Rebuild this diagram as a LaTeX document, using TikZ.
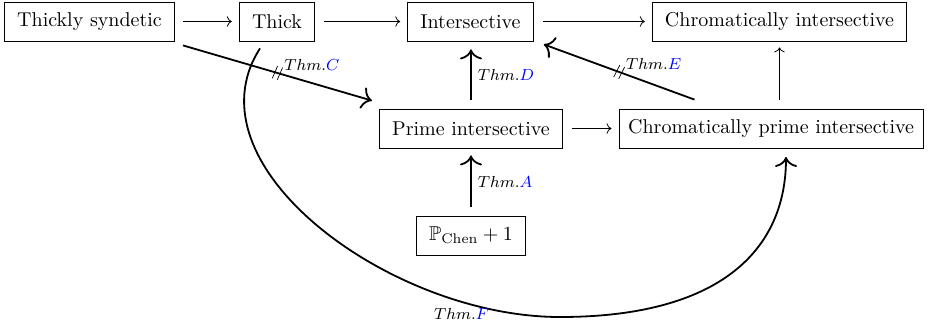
\documentclass[tikz,border=0pt]{standalone}
\usepackage{amsmath,amssymb}
\usetikzlibrary{arrows.meta,calc,decorations.markings}
\tikzset{
  box/.style={draw, line width=0.4pt, inner xsep=6.4pt, inner ysep=3pt, minimum height=19.5pt},
  thinarr/.style={line width=0.4pt, -{Computer Modern Rightarrow}},
  thickarr/.style={line width=0.9pt, -{Computer Modern Rightarrow[length=5pt,width=11pt]}},
  lab/.style={font=\footnotesize, inner sep=1pt},
  slashed/.style={postaction={decorate, decoration={markings, mark=at position 0.5 with {
     \draw[-, line width=0.35pt] (-1.7pt,-3.3pt) -- (-0.9pt,3.3pt);
     \draw[-, line width=0.35pt] (0.9pt,-3.3pt) -- (1.7pt,3.3pt);}}}}
}
\newcommand{\thm}[1]{$Thm.{\color{blue}#1}$}
\begin{document}
\begin{tikzpicture}[x=0.5pt,y=-0.5pt]
\useasboundingbox (0,0) rectangle (930,327);
\node[box] (ts) at (89.5,21.5) {Thickly syndetic};
\node[box] (th) at (277,21.5) {Thick};
\node[box] (in) at (470.5,21.5) {Intersective};
\node[box] (ci) at (779.5,21.5) {Chromatically intersective};
\node[box] (pi) at (471,128.5) {Prime intersective};
\node[box, inner xsep=4.6pt] (cp) at (771,128.5) {Chromatically prime intersective};
\node[box] (pc) at (471,235.5) {$\mathbb{P}_{\text{Chen}}+1$};

\draw[thinarr, shorten <=4pt, shorten >=3.5pt] (ts) -- (th);
\draw[thinarr, shorten <=4.5pt, shorten >=3.5pt] (th) -- (in);
\draw[thinarr, shorten <=4.5pt, shorten >=3.5pt] (in) -- (ci);
\draw[thinarr, shorten <=4.5pt, shorten >=3.5pt] (pi) -- (cp);
\draw[thinarr, shorten <=4.5pt, shorten >=3pt] (cp.north -| ci.south) -- (ci.south);

\draw[thickarr, shorten <=4.5pt, shorten >=4pt] (pi.north) -- node[lab, anchor=west, xshift=2pt] {\thm{D}} (pi.north |- in.south);
\draw[thickarr, shorten <=4.5pt, shorten >=3.5pt] (pc.north) -- node[lab, anchor=west, xshift=2pt] {\thm{A}} (pc.north |- pi.south);

\draw[thickarr, slashed] ($(ts.south east)+(8,4)$) -- node[lab, anchor=south west, xshift=2pt] {\thm{C}} ($(pi.north west)+(-7,-8)$);
\draw[thickarr, slashed] ($(cp.north west)+(76,-9)$) -- node[lab, anchor=south west, xshift=2pt] {\thm{E}} ($(in.south east)+(10,3)$);

\coordinate (fb) at (560,317);
\draw[thickarr] ($(th.south)+(-17,7)$) .. controls (185,165) and (390,317) .. node[lab, pos=0.81, anchor=north, inner sep=3pt] {\thm{F}} (fb)
   .. controls (720,317) and (786,250) .. (786,157);
\end{tikzpicture}
\end{document}
